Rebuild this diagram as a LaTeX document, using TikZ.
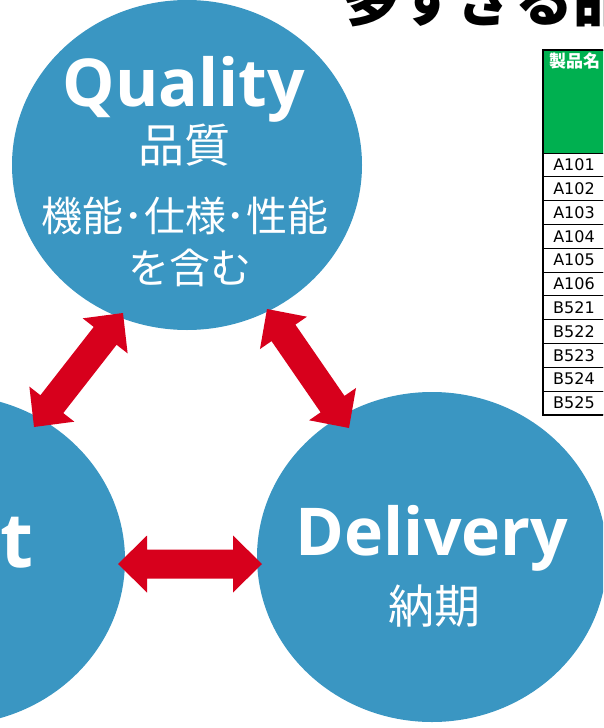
\documentclass[tikz,border=0pt]{standalone}
\usepackage{fontspec}
\setmainfont{Open Sans}
\newfontfamily\jpfont{Noto Sans CJK JP}
\newfontfamily\cellfont{DejaVu Sans}
\usetikzlibrary{calc,shapes.geometric}
\definecolor{qcdblue}{HTML}{3A96C2}
\definecolor{qcdred}{HTML}{D7001C}
\definecolor{hdrgreen}{HTML}{00B050}

% two-headed block arrow between two tip points
\newcommand{\twoway}[2]{%
  \coordinate (hA) at ($(#1)!29pt!(#2)$);
  \coordinate (hB) at ($(#2)!29pt!(#1)$);
  \fill[qcdred] (#1) -- ($(hA)!28.5pt!90:(#2)$) -- ($(hA)!14.5pt!90:(#2)$)
    -- ($(hB)!14.5pt!-90:(#1)$) -- ($(hB)!28.5pt!-90:(#1)$) -- (#2)
    -- ($(hB)!28.5pt!90:(#1)$) -- ($(hB)!14.5pt!90:(#1)$)
    -- ($(hA)!14.5pt!-90:(#2)$) -- ($(hA)!28.5pt!-90:(#2)$) -- cycle;}

\begin{document}
\begin{tikzpicture}[x=1pt,y=-1pt]
\tikzset{ball/.style={ellipse,fill=qcdblue,minimum width=350pt,minimum height=330pt,inner sep=0pt},
  entitle/.style={font=\fontsize{66}{66}\selectfont\bfseries,text=white,anchor=base,inner sep=0pt},
  jpname/.style={font=\jpfont\fontsize{46}{46}\selectfont,text=white,inner sep=0pt},
  jpnote/.style={font=\jpfont\fontsize{41}{41}\selectfont,text=white,inner sep=0pt},
  cell/.style={draw,line width=0.8pt,minimum width=62pt,minimum height=23.8pt,inner sep=0pt,font=\cellfont\fontsize{16}{16}\selectfont}}
\useasboundingbox (0,0) rectangle (603,728);
\clip (0,0) rectangle (603,728);
% heading (cut off at the top)
\node[font=\jpfont\bfseries\fontsize{58}{58}\selectfont,anchor=base west,inner sep=0pt] (heading) at (341,21) {多すぎる品};
% product table
\node[draw,fill=hdrgreen,minimum width=62pt,minimum height=103pt,inner sep=0pt] (hdr) at (574,101.5) {};
\node[font=\jpfont\bfseries\fontsize{17}{17}\selectfont,text=white,anchor=north west,inner sep=0pt] (hdrtext) at (549,53) {製品名};
\foreach \pn [count=\i] in {A101,A102,A103,A104,A105,A106,B521,B522,B523,B524,B525}
  \node[cell] (row\i) at (574,{153+23.8*(\i-0.5)}) {\pn};
\draw[line width=2pt] (hdr.north west) rectangle (row11.south east);
% circles
\node[ball] (quality) at (187,165) {};
\node[ball] (delivery) at (432,557) {};
\node[ball] (cost) at (-50,560) {};
% arrows
\coordinate (q-c) at (123,313);
\coordinate (c-q) at (34,427);
\coordinate (q-d) at (267,309);
\coordinate (d-q) at (349,428);
\coordinate (c-d) at (118,564);
\coordinate (d-c) at (262,564);
\twoway{q-c}{c-q}
\twoway{q-d}{d-q}
\twoway{c-d}{d-c}
% texts
\node[entitle] (qen) at (184,106) {Quality};
\node[jpname] (qjp) at (184,145) {品質};
\node[jpnote] (qnote1) at (185,216) {機能･仕様･性能};
\node[jpnote] (qnote2) at (190,268) {を含む};
\node[entitle] (den) at (432,555) {Delivery};
\node[jpname] (djp) at (434,606) {納期};
\node[entitle,font=\fontsize{76}{76}\selectfont\bfseries,anchor=base east] (cen) at (34,567) {Cost};
\end{tikzpicture}
\end{document}
